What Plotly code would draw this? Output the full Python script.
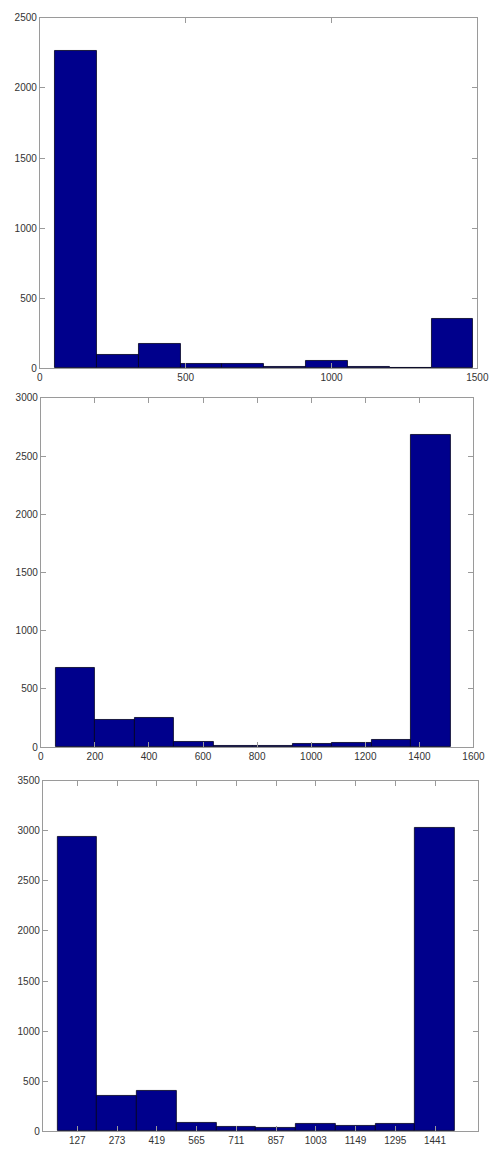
import plotly.graph_objects as go

# Histogram 1: bin centres and counts
centers_1 = [124, 267, 411, 554, 697, 841, 984, 1127, 1271, 1414]
counts_1 = [2262, 97, 172, 28, 33, 12, 49, 6, 5, 353]
bin_width_1 = 143.4

# Histogram 2: bin centres and counts
centers_2 = [128, 274, 420, 566, 712, 858, 1004, 1150, 1296, 1442]
counts_2 = [684, 232, 249, 48, 14, 10, 25, 34, 62, 2683]
bin_width_2 = 146

# Histogram 3: bin centres (also used as tick labels) and counts
centers_3 = [127, 273, 419, 565, 711, 857, 1003, 1149, 1295, 1441]
counts_3 = [2942, 353, 406, 83, 43, 30, 73, 50, 76, 3035]
bin_width_3 = 146

BAR_COLOR = "rgb(0,0,140)"
FRAME = "#9a9a9a"
FONT = dict(family="Liberation Sans, Arial, sans-serif", size=10, color="#333")

fig = go.Figure()

panels = [
    (centers_1, counts_1, bin_width_1, "x", "y"),
    (centers_2, counts_2, bin_width_2, "x2", "y2"),
    (centers_3, counts_3, bin_width_3, "x3", "y3"),
]
for cx, cy, w, xa, ya in panels:
    fig.add_trace(go.Bar(
        x=cx, y=cy, width=w, xaxis=xa, yaxis=ya,
        marker=dict(color=BAR_COLOR, line=dict(color="#000020", width=0.8)),
        showlegend=False, hoverinfo="x+y",
    ))

H = 1153.0
W = 501.0

def ax_common():
    return dict(
        showgrid=False, zeroline=False, showline=True, linecolor=FRAME, linewidth=1,
        mirror="ticks", ticks="inside", ticklen=5, tickcolor=FRAME, tickwidth=1,
        tickfont=FONT,
    )

def xdom(l, r):
    return [l / W, r / W]

def ydom(top, bottom):
    return [1 - bottom / H, 1 - top / H]

fig.update_layout(
    width=501, height=1153,
    margin=dict(l=0, r=0, t=0, b=0),
    paper_bgcolor="white", plot_bgcolor="white",
    bargap=0,
    xaxis=dict(**ax_common(), domain=xdom(38, 489), range=[0, 1500],
               tickvals=[0, 500, 1000, 1500], anchor="y"),
    yaxis=dict(**ax_common(), domain=ydom(12, 366), range=[0, 2500],
               dtick=500, anchor="x"),
    xaxis2=dict(**ax_common(), domain=xdom(39, 485), range=[0, 1600],
                dtick=200, anchor="y2"),
    yaxis2=dict(**ax_common(), domain=ydom(396, 749), range=[0, 3000],
                dtick=500, anchor="x2"),
    xaxis3=dict(**ax_common(), domain=xdom(41, 490), range=[0, 1600],
                tickvals=centers_3, ticktext=[str(c) for c in centers_3], anchor="y3"),
    yaxis3=dict(**ax_common(), domain=ydom(783, 1137), range=[0, 3500],
                dtick=500, anchor="x3"),
)

fig.write_html("out.html")
